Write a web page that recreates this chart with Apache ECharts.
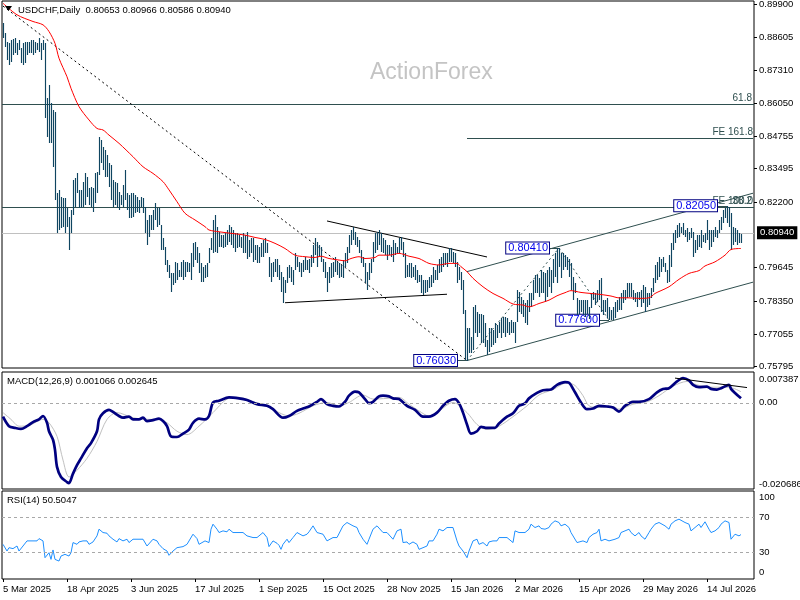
<!DOCTYPE html>
<html><head><meta charset="utf-8">
<script src="https://cdn.jsdelivr.net/npm/echarts@6/dist/echarts.min.js"></script>
<style>html,body{margin:0;padding:0;background:#fff}#c{width:800px;height:600px}</style>
</head><body><div id="c"></div>
<script>
const FONT = '"Liberation Sans", Arial, sans-serif';
const tickLabels = ['5 Mar 2025','18 Apr 2025','3 Jun 2025','17 Jul 2025','1 Sep 2025','15 Oct 2025','28 Nov 2025','15 Jan 2026','2 Mar 2026','15 Apr 2026','29 May 2026','14 Jul 2026'];
const labelEvery = 32;
const slotCount = 376;
const priceTicks = [0.89900,0.88605,0.87310,0.86050,0.84755,0.83495,0.82200,0.79645,0.78350,0.77055,0.75795];
const lastPrice = 0.80940;
const header = 'USDCHF,Daily  0.80653 0.80966 0.80586 0.80940';

const highs = [
0.8917,0.8876,0.8843,0.8837,0.8850,0.8853,0.8856,0.8837,0.8850,0.8818,
0.8837,0.8843,0.8843,0.8843,0.8850,0.8850,0.8843,0.8837,0.8856,0.8837,
0.8850,0.8837,0.8623,0.8675,0.8604,0.8578,0.8571,0.8254,0.8267,0.8241,
0.8234,0.8234,0.8195,0.8163,0.8188,0.8305,0.8312,0.8331,0.8267,0.8267,
0.8299,0.8331,0.8318,0.8273,0.8279,0.8273,0.8331,0.8338,0.8474,0.8461,
0.8435,0.8422,0.8403,0.8370,0.8364,0.8305,0.8299,0.8292,0.8260,0.8247,
0.8286,0.8344,0.8254,0.8247,0.8254,0.8254,0.8247,0.8241,0.8228,0.8241,
0.8234,0.8201,0.8150,0.8169,0.8169,0.8188,0.8214,0.8195,0.8195,0.8130,
0.8078,0.8046,0.7994,0.7975,0.7942,0.7942,0.7987,0.7981,0.7955,0.7987,
0.7994,0.7987,0.7987,0.7981,0.8020,0.8059,0.8065,0.8046,0.8020,0.7981,
0.7968,0.7975,0.7981,0.8039,0.8078,0.8150,0.8169,0.8124,0.8104,0.8091,
0.8091,0.8098,0.8111,0.8130,0.8124,0.8111,0.8098,0.8098,0.8091,0.8085,
0.8098,0.8091,0.8104,0.8072,0.8078,0.8078,0.8052,0.8052,0.8046,0.8059,
0.8072,0.8078,0.8059,0.8007,0.7981,0.7987,0.8000,0.8000,0.7975,0.7949,
0.7929,0.7916,0.7968,0.7975,0.7968,0.7955,0.8020,0.8007,0.7987,0.7981,
0.7994,0.8007,0.7994,0.8000,0.8013,0.8052,0.8078,0.8065,0.8052,0.8046,
0.8000,0.7987,0.7949,0.7968,0.7981,0.7987,0.8007,0.7987,0.7981,0.7975,
0.7994,0.8020,0.8046,0.8091,0.8111,0.8124,0.8104,0.8085,0.8072,0.8033,
0.8007,0.7981,0.7949,0.7981,0.8000,0.8065,0.8098,0.8104,0.8111,0.8098,
0.8078,0.8072,0.8052,0.8052,0.8046,0.8072,0.8059,0.8046,0.8078,0.8085,
0.8065,0.8020,0.7975,0.7981,0.7981,0.7968,0.7975,0.7955,0.7936,0.7936,
0.7916,0.7916,0.7916,0.7929,0.7936,0.7968,0.7955,0.7975,0.8000,0.8007,
0.8020,0.8020,0.8020,0.8039,0.8039,0.8026,0.8020,0.7987,0.7968,0.7949,
0.7916,0.7799,0.7728,0.7728,0.7696,0.7812,0.7819,0.7793,0.7786,0.7786,
0.7780,0.7748,0.7683,0.7728,0.7728,0.7722,0.7748,0.7741,0.7754,0.7767,
0.7773,0.7773,0.7767,0.7754,0.7760,0.7754,0.7754,0.7877,0.7871,0.7851,
0.7838,0.7825,0.7838,0.7864,0.7864,0.7916,0.7936,0.7936,0.7923,0.7955,
0.7949,0.7942,0.7955,0.7968,0.7955,0.8000,0.8020,0.8039,0.8041,0.8020,
0.8020,0.8013,0.8007,0.8000,0.7981,0.7929,0.7903,0.7845,0.7838,0.7838,
0.7838,0.7838,0.7838,0.7812,0.7864,0.7871,0.7864,0.7877,0.7916,0.7923,
0.7838,0.7838,0.7845,0.7812,0.7799,0.7812,0.7832,0.7838,0.7851,0.7864,
0.7877,0.7877,0.7903,0.7903,0.7903,0.7877,0.7864,0.7871,0.7871,0.7877,
0.7897,0.7890,0.7864,0.7864,0.7884,0.7923,0.7975,0.7987,0.8007,0.8000,
0.8007,0.7981,0.7955,0.8013,0.8059,0.8098,0.8111,0.8130,0.8137,0.8124,
0.8137,0.8111,0.8117,0.8104,0.8117,0.8104,0.8072,0.8091,0.8091,0.8111,
0.8091,0.8098,0.8150,0.8111,0.8111,0.8111,0.8124,0.8111,0.8150,0.8163,
0.8188,0.8195,0.8205,0.8201,0.8176,0.8124,0.8117,0.8111,0.8098,0.80966];

const lows = [
0.8856,0.8824,0.8772,0.8753,0.8766,0.8792,0.8798,0.8792,0.8811,0.8759,
0.8753,0.8759,0.8792,0.8798,0.8798,0.8792,0.8798,0.8811,0.8805,0.8772,
0.8811,0.8545,0.8474,0.8448,0.8448,0.8357,0.8228,0.8098,0.8111,0.8117,
0.8124,0.8098,0.8124,0.8033,0.8098,0.8169,0.8201,0.8254,0.8195,0.8195,
0.8201,0.8208,0.8241,0.8208,0.8201,0.8182,0.8214,0.8254,0.8325,0.8370,
0.8344,0.8318,0.8318,0.8279,0.8228,0.8201,0.8208,0.8195,0.8188,0.8208,
0.8201,0.8228,0.8188,0.8156,0.8156,0.8163,0.8176,0.8182,0.8176,0.8201,
0.8176,0.8098,0.8052,0.8085,0.8111,0.8111,0.8150,0.8124,0.8130,0.8033,
0.8033,0.7975,0.7949,0.7923,0.7871,0.7897,0.7903,0.7916,0.7929,0.7929,
0.7916,0.7929,0.7949,0.7949,0.7916,0.7968,0.7994,0.7981,0.7942,0.7910,
0.7910,0.7923,0.7929,0.7981,0.8033,0.8020,0.8026,0.8020,0.8046,0.8046,
0.8039,0.8046,0.8052,0.8065,0.8052,0.8039,0.8026,0.8039,0.8046,0.8039,
0.8020,0.8020,0.8000,0.8007,0.8020,0.7987,0.7994,0.7981,0.7981,0.8007,
0.8007,0.8020,0.8020,0.7929,0.7910,0.7929,0.7949,0.7929,0.7916,0.7871,
0.7825,0.7864,0.7903,0.7923,0.7910,0.7897,0.7955,0.7968,0.7949,0.7929,
0.7949,0.7955,0.7955,0.7942,0.7968,0.7981,0.8013,0.7968,0.8007,0.7987,
0.7949,0.7923,0.7871,0.7903,0.7923,0.7929,0.7949,0.7936,0.7923,0.7929,
0.7923,0.7968,0.7981,0.8020,0.8052,0.8072,0.8052,0.8046,0.8020,0.7981,
0.7968,0.7903,0.7877,0.7916,0.7942,0.7987,0.8020,0.8033,0.8052,0.8026,
0.8020,0.8013,0.7994,0.8013,0.8007,0.7987,0.8013,0.8020,0.8020,0.8033,
0.8007,0.7923,0.7929,0.7929,0.7923,0.7929,0.7916,0.7903,0.7910,0.7864,
0.7858,0.7864,0.7871,0.7884,0.7890,0.7903,0.7916,0.7916,0.7942,0.7949,
0.7968,0.7975,0.7968,0.7987,0.7987,0.7981,0.7968,0.7903,0.7916,0.7877,
0.7786,0.7605,0.7603,0.7631,0.7631,0.7644,0.7709,0.7696,0.7709,0.7670,
0.7670,0.7657,0.7624,0.7637,0.7657,0.7663,0.7670,0.7689,0.7709,0.7689,
0.7709,0.7696,0.7709,0.7702,0.7709,0.7709,0.7670,0.7754,0.7793,0.7786,
0.7773,0.7748,0.7741,0.7793,0.7812,0.7838,0.7864,0.7864,0.7851,0.7864,
0.7864,0.7832,0.7851,0.7890,0.7864,0.7903,0.7929,0.7903,0.7968,0.7923,
0.7955,0.7968,0.7955,0.7929,0.7877,0.7838,0.7864,0.7780,0.7786,0.7793,
0.7780,0.7773,0.7786,0.7766,0.7806,0.7838,0.7819,0.7832,0.7838,0.7793,
0.7780,0.7793,0.7767,0.7760,0.7762,0.7762,0.7767,0.7793,0.7799,0.7799,
0.7825,0.7838,0.7845,0.7851,0.7851,0.7838,0.7832,0.7812,0.7838,0.7812,
0.7825,0.7793,0.7812,0.7819,0.7845,0.7871,0.7903,0.7916,0.7929,0.7949,
0.7968,0.7949,0.7903,0.7910,0.7968,0.8033,0.8059,0.8078,0.8085,0.8098,
0.8091,0.8085,0.8065,0.8072,0.8078,0.8007,0.8020,0.8033,0.8046,0.8039,
0.8065,0.8059,0.8072,0.8033,0.8046,0.8065,0.8085,0.8078,0.8098,0.8111,
0.8137,0.8156,0.8137,0.8124,0.8033,0.8052,0.8065,0.8052,0.8059,0.80586];

const ma55 = [[0,0.8993],[7,0.8948],[15,0.8922],[20,0.8909],[23,0.8883],[26,0.8837],[28,0.8779],[32,0.8707],[34,0.8662],[38,0.8591],[43,0.8539],[47,0.8506],[50,0.8500],[53,0.8480],[58,0.8448],[65,0.8396],[70,0.8357],[75,0.8331],[80,0.8299],[83,0.8267],[87,0.8221],[91,0.8176],[96,0.8150],[101,0.8124],[103,0.8111],[108,0.8104],[114,0.8098],[121,0.8091],[126,0.8082],[131,0.8074],[136,0.8059],[141,0.8039],[146,0.8013],[151,0.8007],[156,0.8004],[159,0.8009],[163,0.8000],[168,0.7994],[171,0.7991],[174,0.8000],[178,0.8007],[181,0.8000],[186,0.8004],[188,0.8013],[193,0.8013],[198,0.8020],[203,0.8009],[208,0.8000],[213,0.7981],[218,0.7975],[223,0.7981],[227,0.7981],[229,0.7968],[232,0.7949],[235,0.7923],[240,0.7890],[245,0.7864],[250,0.7845],[255,0.7823],[260,0.7819],[263,0.7812],[268,0.7825],[273,0.7838],[277,0.7855],[281,0.7867],[284,0.7875],[289,0.7868],[294,0.7864],[299,0.7860],[304,0.7854],[308,0.7847],[313,0.7847],[318,0.7845],[323,0.7847],[326,0.7864],[329,0.7875],[333,0.7890],[338,0.7919],[343,0.7942],[348,0.7953],[351,0.7971],[356,0.7987],[361,0.8013],[364,0.8035],[369,0.8039]];

const macdMain = [[0,-0.00333],[3,-0.00561],[6,-0.00602],[9,-0.00626],[12,-0.00561],[15,-0.00463],[18,-0.00398],[20,-0.00317],[22,-0.0048],[23,-0.00683],[25,-0.00886],[26,-0.0113],[27,-0.01537],[29,-0.0178],[32,-0.01902],[33,-0.01927],[35,-0.01699],[37,-0.01496],[39,-0.01333],[42,-0.01089],[44,-0.00967],[47,-0.00683],[48,-0.00398],[50,-0.00252],[53,-0.00171],[55,-0.0022],[58,-0.00317],[60,-0.00358],[63,-0.00333],[65,-0.00398],[68,-0.00398],[70,-0.00358],[72,-0.00439],[75,-0.00415],[78,-0.00382],[80,-0.00439],[82,-0.00561],[84,-0.00805],[87,-0.00821],[90,-0.0074],[93,-0.00642],[95,-0.0048],[98,-0.00382],[101,-0.00398],[103,-0.00317],[105,0.00008],[108,0.00049],[113,0.0013],[118,0.00106],[122,0.00065],[127,-0.00033],[132,-0.00073],[135,-0.00154],[140,-0.00358],[143,-0.00317],[147,-0.00195],[150,-0.00138],[153,-0.00089],[157,0.00024],[159,0.00089],[162,-0.00033],[165,-0.00073],[168,-0.00089],[171,0.00024],[173,0.00171],[176,0.00268],[178,0.00252],[181,0.00089],[183,-0.00008],[185,0.00024],[188,0.00154],[190,0.00171],[193,0.00154],[195,0.00106],[198,0.00089],[202,-0.00073],[206,-0.00171],[210,-0.00333],[213,-0.00333],[217,-0.00236],[220,-0.00073],[223,0.00049],[226,0.00089],[228,-0.00008],[230,-0.00236],[232,-0.0052],[234,-0.0074],[237,-0.00683],[239,-0.00577],[242,-0.00602],[246,-0.00602],[248,-0.00496],[252,-0.00333],[255,-0.00252],[258,-0.00073],[261,-0.00016],[263,0.00106],[267,0.00236],[270,0.00301],[274,0.00317],[277,0.00431],[281,0.00496],[283,0.0048],[286,0.00252],[289,0.00008],[292,-0.00154],[295,-0.00138],[298,-0.00073],[302,-0.00089],[305,-0.00114],[308,-0.00211],[311,-0.00073],[315,0.00024],[318,0.00024],[323,0.00089],[327,0.00252],[330,0.00333],[333,0.0035],[337,0.00512],[340,0.00593],[343,0.00537],[345,0.00431],[348,0.00374],[352,0.0039],[354,0.00333],[357,0.00317],[359,0.0035],[363,0.00431],[364,0.00333],[366,0.00236],[369,0.001066]];

const macdSignal = [[0,-0.00236],[4,-0.00398],[8,-0.00561],[13,-0.00545],[20,-0.00398],[23,-0.0048],[27,-0.00805],[30,-0.01374],[33,-0.0178],[37,-0.01618],[42,-0.01333],[47,-0.00927],[52,-0.00398],[57,-0.00236],[65,-0.00358],[73,-0.00398],[78,-0.00398],[82,-0.0048],[87,-0.00683],[92,-0.00764],[98,-0.00561],[105,-0.00236],[112,0.00089],[118,0.0013],[125,0.00024],[132,-0.00073],[138,-0.00236],[143,-0.00317],[148,-0.00252],[155,-0.00073],[162,0.00008],[168,-0.00073],[173,0.00008],[180,0.00187],[185,0.00089],[192,0.00106],[198,0.0013],[203,-0.00033],[208,-0.00195],[213,-0.00317],[218,-0.00195],[225,0.00008],[232,-0.00236],[237,-0.0052],[242,-0.00642],[248,-0.00561],[255,-0.00333],[262,-0.00073],[268,0.00187],[275,0.00317],[282,0.0048],[286,0.00415],[290,0.00171],[293,-0.00073],[298,-0.00114],[305,-0.00089],[308,-0.00154],[315,-0.00033],[322,0.00024],[328,0.00171],[335,0.00398],[342,0.00512],[347,0.00431],[353,0.00374],[360,0.00374],[363,0.00374],[369,0.002645]];

const rsi14 = [[0,39.4],[2,31.8],[3,35.6],[5,34.5],[7,37.5],[8,31.8],[10,37.5],[12,43.3],[13,42.1],[15,43.3],[17,43.3],[18,45.9],[20,43.3],[21,24.2],[23,29.9],[24,22.3],[25,33.0],[26,22.3],[28,20.4],[29,26.1],[31,28.0],[33,26.1],[34,29.9],[35,41.4],[37,39.4],[38,42.1],[40,43.3],[42,43.3],[43,39.4],[45,42.1],[47,49.0],[48,56.6],[50,52.8],[52,52.0],[53,49.0],[55,45.2],[57,42.1],[58,45.9],[60,43.3],[62,45.2],[63,41.4],[65,45.2],[67,45.2],[68,47.1],[70,45.2],[72,37.5],[73,39.4],[75,45.2],[77,43.3],[78,39.4],[80,34.5],[82,31.8],[83,26.9],[85,31.8],[87,35.6],[88,37.5],[90,36.8],[92,39.4],[93,41.4],[95,50.9],[97,45.9],[98,39.4],[99,37.5],[101,43.3],[103,41.4],[104,56.6],[105,62.3],[107,56.6],[108,52.8],[110,54.7],[112,53.6],[113,56.6],[115,52.8],[117,52.8],[118,53.6],[120,52.8],[122,49.0],[123,50.9],[125,47.1],[127,47.1],[128,47.1],[130,52.8],[132,47.1],[133,36.8],[135,43.3],[137,40.6],[138,38.3],[139,33.7],[140,39.4],[142,45.2],[143,41.4],[145,47.1],[147,52.8],[148,50.9],[150,49.0],[152,50.9],[153,53.6],[155,60.4],[157,52.8],[158,54.7],[160,50.9],[162,43.3],[163,45.2],[165,47.1],[167,47.1],[168,45.2],[170,60.4],[172,64.2],[173,66.1],[175,60.4],[177,58.5],[178,52.8],[180,45.2],[182,39.4],[183,45.2],[185,56.6],[187,60.4],[188,60.4],[190,52.8],[192,52.8],[193,50.9],[195,45.2],[197,54.7],[199,56.6],[200,41.4],[202,42.1],[203,39.4],[205,42.1],[207,39.4],[208,33.7],[210,35.6],[212,37.5],[213,43.3],[215,43.3],[217,50.9],[218,56.6],[220,54.7],[222,58.5],[223,60.4],[225,58.5],[227,43.3],[228,37.5],[230,31.8],[232,24.2],[233,31.8],[234,29.9],[235,43.3],[237,45.2],[238,39.4],[240,41.4],[242,37.5],[243,42.1],[245,43.3],[247,43.3],[248,47.1],[250,47.1],[252,47.1],[253,49.0],[255,41.4],[256,54.7],[258,52.8],[259,53.6],[261,52.8],[263,56.6],[264,62.3],[266,58.5],[268,60.4],[269,57.4],[271,56.6],[273,58.5],[274,62.3],[276,66.1],[278,64.2],[279,60.4],[281,62.3],[283,58.5],[284,52.8],[285,50.9],[287,41.4],[288,39.4],[290,43.3],[292,41.4],[293,47.1],[295,50.9],[297,52.8],[298,56.6],[299,43.3],[301,45.2],[303,43.3],[304,41.4],[306,45.2],[308,47.1],[309,52.8],[311,54.7],[313,56.6],[314,52.8],[316,49.0],[318,52.8],[319,49.0],[321,45.2],[323,52.8],[324,56.6],[326,62.3],[328,64.2],[329,64.2],[331,60.4],[333,56.6],[334,62.3],[336,66.1],[338,68.0],[339,68.8],[341,64.2],[343,62.3],[344,54.7],[346,58.5],[348,62.3],[349,58.5],[351,65.0],[353,56.6],[354,52.8],[356,54.7],[358,58.5],[359,62.3],[361,66.1],[363,64.2],[364,45.2],[366,50.9],[368,49.0],[369,50.5047]];

// Fibonacci / expansion levels and drawn trend lines (bar index, price)
const fibLevels = [{v:0.85881, t:'61.8'}, {v:0.82119, t:'38.2'}];
const feLevels = [{v:0.84690, t:'FE 161.8'}, {v:0.81980, t:'FE 100.0'}];
const feStart = 232;
const swingLabels = [{i:232, v:0.76030}, {i:278, v:0.80410}, {i:303, v:0.77600}, {i:362, v:0.82050}];
const bigDashed = [[0,0.8982],[232,0.7603]];
const fePath = [[232,0.7603],[278,0.8041],[303,0.7760]];
const triUpper = [[162,0.8146],[242,0.8006]];
const triLower = [[141,0.7828],[222,0.7861]];
const chanUpper = [[232,0.7949],[375,0.8254]];
const chanLower = [[232,0.7603],[375,0.7908]];
const macdTrend = [[336,0.00592],[372,0.00365]];

const categories = Array.from({length: slotCount}, (_, i) => String(i));
const slate = '#2f4f4f';

function seg(a, b, color, type) {
  return [{coord: a, lineStyle: {color, type: type || 'solid', width: 1}}, {coord: b}];
}

const chart = echarts.init(document.getElementById('c'), null, {renderer: 'canvas'});

const xBase = (gi, showLabels) => ({
  type: 'category', gridIndex: gi, data: categories, boundaryGap: true,
  axisLine: {show: false},
  axisTick: showLabels ? {show: true, alignWithLabel: true, length: 3, lineStyle: {color: '#000'},
    interval: (idx) => idx % labelEvery === 0 && idx / labelEvery < tickLabels.length} : {show: false},
  axisLabel: showLabels ? {
    show: true, interval: (idx) => idx % labelEvery === 0 && idx / labelEvery < tickLabels.length,
    formatter: (val, idx) => tickLabels[Math.round(idx / labelEvery)] || '',
    align: 'left', margin: 5, fontSize: 9.5, fontFamily: FONT, color: '#000'
  } : {show: false},
  splitLine: {show: false}
});

const gridStyle = {show: true, borderColor: '#000', borderWidth: 1, backgroundColor: '#fff', outerBoundsMode: 'none', containLabel: false};

const option = {
  animation: false,
  backgroundColor: '#fff',
  grid: [
    Object.assign({left: 2, top: 1, width: 752, height: 367}, gridStyle),
    Object.assign({left: 2, top: 372, width: 752, height: 117}, gridStyle),
    Object.assign({left: 2, top: 491, width: 752, height: 88}, gridStyle)
  ],
  xAxis: [xBase(0, false), xBase(1, false), xBase(2, true)],
  yAxis: [
    {type: 'value', gridIndex: 0, position: 'right', min: 0.75741, max: 0.90017, scale: true,
     axisLine: {show: false}, splitLine: {show: false},
     axisTick: {show: true, length: 3, inside: false, lineStyle: {color: '#000'}, customValues: priceTicks},
     axisLabel: {customValues: priceTicks, formatter: v => v.toFixed(5), margin: 5, fontSize: 9.5, fontFamily: FONT, color: '#000'}},
    {type: 'value', gridIndex: 1, position: 'right', min: -0.020686, max: 0.007387,
     axisLine: {show: false}, splitLine: {show: false},
     axisTick: {show: false},
     axisLabel: {customValues: [-0.020686, 0, 0.007387], margin: 5, fontSize: 9.5, fontFamily: FONT, color: '#000',
       formatter: v => v > 0.007 ? '{t|0.007387}' : (v < -0.02 ? '{b|-0.020686}' : '0.00'),
       rich: {t: {padding: [15, 0, 0, 0], fontSize: 9.5, fontFamily: FONT, color: '#000'},
              b: {padding: [0, 0, 10, 0], fontSize: 9.5, fontFamily: FONT, color: '#000'}}}},
    {type: 'value', gridIndex: 2, position: 'right', min: 0, max: 100,
     axisLine: {show: false}, splitLine: {show: false},
     axisTick: {show: false},
     axisLabel: {customValues: [0, 30, 70, 100], margin: 5, fontSize: 9.5, fontFamily: FONT, color: '#000',
       formatter: v => v === 100 ? '{t|100}' : (v === 0 ? '{b|0}' : String(v)),
       rich: {t: {padding: [13, 0, 0, 0], fontSize: 9.5, fontFamily: FONT, color: '#000'},
              b: {padding: [0, 0, 13, 0], fontSize: 9.5, fontFamily: FONT, color: '#000'}}}}
  ],
  graphic: [
    {type: 'polygon', shape: {points: [[5, 6], [12, 6], [8.5, 11]]}, style: {fill: '#000'}, z: 100},
    {type: 'text', x: 18, y: 10.5, z: 100, style: {text: header, fontSize: 9.5, fontFamily: FONT, fill: '#000', verticalAlign: 'middle'}},
    {type: 'text', x: 370, y: 73, z: 1, style: {text: 'ActionForex', fontSize: 23, fontFamily: FONT, fill: '#c4c4c4', verticalAlign: 'middle'}},
    {type: 'text', x: 7, y: 381.5, z: 100, style: {text: 'MACD(12,26,9) 0.001066 0.002645', fontSize: 9.5, fontFamily: FONT, fill: '#000', verticalAlign: 'middle'}},
    {type: 'text', x: 7, y: 500.5, z: 100, style: {text: 'RSI(14) 50.5047', fontSize: 9.5, fontFamily: FONT, fill: '#000', verticalAlign: 'middle'}}
  ],
  series: [
    {
      type: 'custom', name: 'USDCHF', xAxisIndex: 0, yAxisIndex: 0, z: 3,
      data: highs.map((h, i) => [i, h, lows[i]]),
      encode: {x: 0, y: [1, 2]},
      renderItem: (params, api) => {
        const i = api.value(0);
        const p1 = api.coord([i, api.value(1)]);
        const p2 = api.coord([i, api.value(2)]);
        const x = Math.round(p1[0]) + 0.5;
        return {type: 'line', shape: {x1: x, y1: Math.round(p1[1]), x2: x, y2: Math.round(p2[1])},
                style: {stroke: '#0f4561', lineWidth: 1.15}};
      },
      markLine: {
        silent: true, symbol: ['none', 'none'], z: 1,
        data: [{yAxis: lastPrice, lineStyle: {color: '#c0c0c0', type: 'solid', width: 1},
          label: {show: true, position: 'end', distance: 3, formatter: lastPrice.toFixed(5),
            backgroundColor: '#000', color: '#fff', padding: [2, 3, 1, 3], fontSize: 9.5, fontFamily: FONT}}]
      }
    },
    {
      type: 'line', name: 'MA', xAxisIndex: 0, yAxisIndex: 0, z: 4,
      data: ma55, showSymbol: false, smooth: 0.3,
      lineStyle: {color: '#ff0000', width: 1},
      markLine: {
        silent: true, symbol: ['none', 'none'], z: 2,
        label: {show: false},
        data: [
          ...fibLevels.map(f => ({yAxis: f.v, lineStyle: {color: slate, type: 'solid', width: 1},
            label: {show: true, position: 'insideEndTop', formatter: f.t, distance: [2, 1], color: slate, fontSize: 10, fontFamily: FONT}})),
          ...feLevels.map(f => [{coord: [feStart, f.v], lineStyle: {color: slate, type: 'solid', width: 1},
            label: {show: true, position: 'insideEndTop', formatter: f.t, distance: [0, 1], color: slate, fontSize: 10, fontFamily: FONT}},
            {coord: [375, f.v]}]),
          seg(bigDashed[0], bigDashed[1], '#000', [2, 3]),
          seg(fePath[0], fePath[1], slate, [2, 3]),
          seg(fePath[1], fePath[2], slate, [2, 3]),
          seg(triUpper[0], triUpper[1], '#000'),
          seg(triLower[0], triLower[1], '#000'),
          seg(chanUpper[0], chanUpper[1], slate),
          seg(chanLower[0], chanLower[1], slate),
          ...swingLabels.map(s => [{coord: [s.i - 5, s.v], lineStyle: {color: slate, type: 'solid', width: 1},
            label: {show: true, position: 'start', distance: 0, formatter: s.v.toFixed(5),
              color: '#0000ee', backgroundColor: '#fff', borderColor: '#000080', borderWidth: 1,
              padding: [0, 1, 0, 2], fontSize: 11, lineHeight: 11, fontFamily: FONT}},
            {coord: [s.i, s.v]}])
        ]
      }
    },
    {
      type: 'line', name: 'Signal', xAxisIndex: 1, yAxisIndex: 1, z: 3,
      data: macdSignal, showSymbol: false, smooth: 0.3,
      lineStyle: {color: '#c0c0c0', width: 1},
      markLine: {
        silent: true, symbol: ['none', 'none'], label: {show: false},
        data: [{yAxis: 0, lineStyle: {color: '#a8a8a8', type: [3, 3], width: 1}},
               seg(macdTrend[0], macdTrend[1], '#000')]
      }
    },
    {
      type: 'line', name: 'MACD', xAxisIndex: 1, yAxisIndex: 1, z: 4,
      data: macdMain, showSymbol: false, smooth: 0.3,
      lineStyle: {color: '#000080', width: 2.7}
    },
    {
      type: 'line', name: 'RSI', xAxisIndex: 2, yAxisIndex: 2, z: 4,
      data: rsi14, showSymbol: false,
      lineStyle: {color: '#1e90ff', width: 1},
      markLine: {
        silent: true, symbol: ['none', 'none'], label: {show: false},
        data: [{yAxis: 70}, {yAxis: 30}],
        lineStyle: {color: '#a8a8a8', type: [3, 3], width: 1}
      }
    }
  ]
};
chart.setOption(option);
</script>
</body></html>
